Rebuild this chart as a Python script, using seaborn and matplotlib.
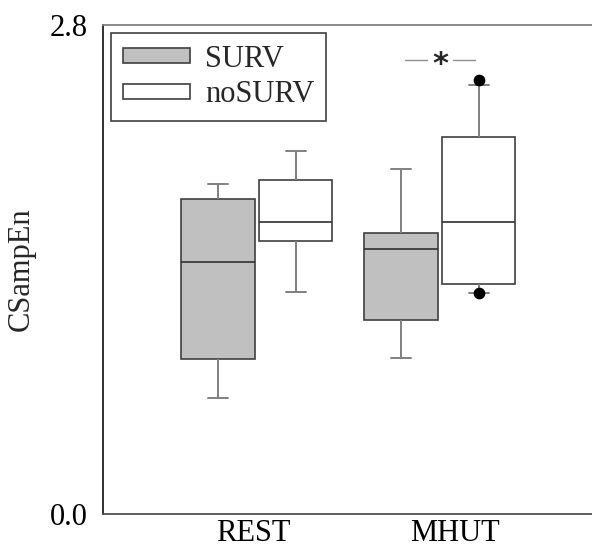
import numpy as np
import pandas as pd
import matplotlib
matplotlib.use("Agg")
import matplotlib.pyplot as plt
import seaborn as sns

# ==========================================
# データ
# ==========================================
conditions = ["REST", "MHUT"]
groups = ["SURV", "noSURV"]

# 各群 5点: 下ひげ, Q1, 中央値, Q3, 上ひげ
surv_rest = [0.663, 0.888, 1.442, 1.802, 1.888]
nosurv_rest = [1.270, 1.564, 1.672, 1.911, 2.075]
surv_mhut = [0.895, 1.111, 1.518, 1.609, 1.974]
nosurv_mhut = [1.264, 1.316, 1.671, 2.159, 2.453]

# MHUT noSURV の外れ値
outliers_nosurv_mhut = [2.485, 1.264]

y_ticks = [0.0, 2.8]
y_tick_labels = ["0.0", "2.8"]

# ==========================================
# 描画
# ==========================================
rows = []
for cond, grp, vals in [("REST", "SURV", surv_rest), ("REST", "noSURV", nosurv_rest),
                        ("MHUT", "SURV", surv_mhut), ("MHUT", "noSURV", nosurv_mhut)]:
    for v in vals:
        rows.append({"condition": cond, "group": grp, "CSampEn": v})
df = pd.DataFrame(rows)

sns.set_theme(style="white")
plt.rcParams["font.family"] = ["Liberation Serif", "DejaVu Serif"]
plt.rcParams["font.size"] = 22

fig = plt.figure(figsize=(5.92, 5.52), dpi=100)
ax = fig.add_axes([0.174, 0.069, 0.826, 0.886])

box_width = 0.85
sns.boxplot(data=df, x="condition", y="CSampEn", hue="group",
            order=conditions, hue_order=groups,
            palette={"SURV": "#c0c0c0", "noSURV": "white"},
            width=box_width, gap=0.06, linecolor="#404040", linewidth=1.2,
            whiskerprops={"color": "#808080", "linewidth": 1.4},
            capprops={"color": "#808080", "linewidth": 1.4},
            medianprops={"color": "#303030", "linewidth": 1.2},
            capwidths=0.11, ax=ax)

# 外れ値 (黒丸)
x_out = conditions.index("MHUT") + box_width / 4
ax.scatter([x_out] * len(outliers_nosurv_mhut), outliers_nosurv_mhut,
           s=55, color="black", zorder=5)

# 有意差マーク
xm = conditions.index("MHUT")
ax.plot([xm - 0.19, xm - 0.07], [2.60, 2.60], color="#909090", lw=1.0)
ax.plot([xm + 0.07, xm + 0.19], [2.60, 2.60], color="#909090", lw=1.0)
ax.text(xm, 2.575, "*", ha="center", va="center", fontsize=22,
        fontweight="bold", family="DejaVu Sans")

ax.set_xlim(-0.84, 1.83)
ax.set_ylim(0, 2.8)
ax.set_yticks(y_ticks, y_tick_labels)
ax.set_xticks([-0.02, 1.08], conditions)
ax.tick_params(axis="both", length=0, labelsize=22, colors="black")
ax.tick_params(axis="y", pad=11)
ax.tick_params(axis="x", pad=4)
ax.set_xlabel("")
ax.set_ylabel("CSampEn", fontsize=22, labelpad=10)

for side in ["left", "bottom", "top"]:
    ax.spines[side].set_visible(True)
    ax.spines[side].set_linewidth(1.3)
ax.spines["left"].set_color("#202020")
ax.spines["bottom"].set_color("#505050")
ax.spines["top"].set_color("#808080")
ax.spines["right"].set_visible(False)

handles, labels = ax.get_legend_handles_labels()
leg = ax.legend(handles, labels, loc="upper left", fontsize=22,
                frameon=True, fancybox=False, edgecolor="#404040",
                framealpha=1, borderaxespad=0.27, borderpad=0.38,
                handlelength=2.2, handleheight=0.4, handletextpad=0.5,
                labelspacing=0.22)
leg.get_frame().set_linewidth(1.2)

fig.savefig("out.png", dpi=100)
